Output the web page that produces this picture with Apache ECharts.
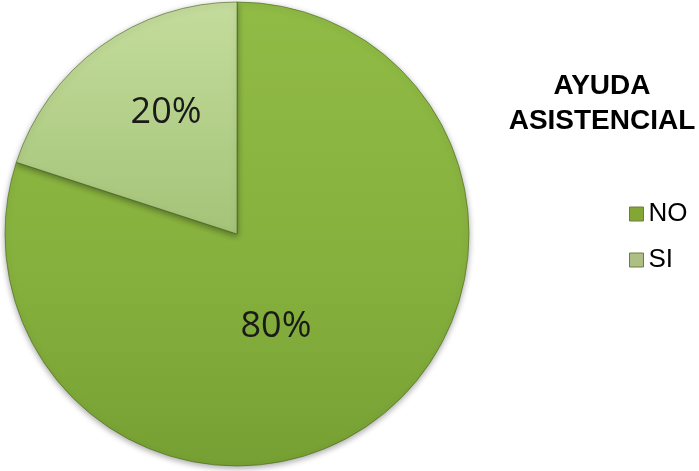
<!DOCTYPE html>
<html>
<head>
<meta charset="utf-8">
<script src="https://cdn.jsdelivr.net/npm/echarts@6/dist/echarts.min.js"></script>
<style>html,body{margin:0;padding:0;background:#fff}#c{width:699px;height:471px}</style>
</head>
<body>
<div id="c"></div>
<script>
var categories = ['NO', 'SI'];
var values = [80, 20];
var titleLines = ['AYUDA', 'ASISTENCIAL'];

var chart = echarts.init(document.getElementById('c'), null, {renderer: 'canvas'});

var sliceStyles = [
  {
    color: new echarts.graphic.LinearGradient(0, 0, 0, 1, [
      {offset: 0, color: '#90bb45'},
      {offset: 0.6, color: '#86b03d'},
      {offset: 1, color: '#76a033'}
    ]),
    label: [-31, -4],
    legend: '#83a637'
  },
  {
    color: new echarts.graphic.LinearGradient(0, 0, 0, 1, [
      {offset: 0, color: '#c4dc9c'},
      {offset: 1, color: '#a4c478'}
    ]),
    label: [-1, -25],
    legend: '#aebf86'
  }
];

var seriesData = categories.map(function (c, i) {
  return {
    name: c,
    value: values[i],
    itemStyle: {color: sliceStyles[i].color},
    label: {offset: sliceStyles[i].label}
  };
});

chart.setOption({
  animation: false,
  graphic: [{
    type: 'text',
    x: 602,
    y: 69,
    style: {
      text: titleLines.join('\n'),
      textAlign: 'center',
      textVerticalAlign: 'top',
      font: 'bold 28px "Liberation Sans", Arial, sans-serif',
      lineHeight: 35,
      fill: '#000'
    }
  }],
  legend: {
    orient: 'vertical',
    left: 629,
    top: 201,
    padding: 0,
    itemWidth: 14,
    itemHeight: 14,
    itemGap: 20,
    icon: 'rect',
    selectedMode: false,
    data: categories.map(function (c, i) {
      return {name: c, itemStyle: {color: sliceStyles[i].legend, borderColor: '#6a7f3a', borderWidth: 1}};
    }),
    textStyle: {
      fontFamily: '"Liberation Sans", Arial, sans-serif',
      fontSize: 26,
      lineHeight: 26,
      color: '#000'
    }
  },
  series: [{
    type: 'pie',
    center: [237, 234],
    radius: 232,
    startAngle: 90,
    clockwise: true,
    silent: true,
    data: seriesData,
    itemStyle: {
      borderColor: 'rgba(70,100,30,0.6)',
      borderWidth: 1,
      shadowBlur: 6,
      shadowColor: 'rgba(0,0,0,0.35)',
      shadowOffsetY: 2
    },
    label: {
      show: true,
      position: 'inside',
      formatter: function (p) { return Math.round(p.percent) + '%'; },
      fontFamily: '"Open Sans", sans-serif',
      fontSize: 36,
      color: '#1a1a1a'
    },
    labelLine: {show: false},
    emphasis: {disabled: true}
  }]
});
</script>
</body>
</html>
